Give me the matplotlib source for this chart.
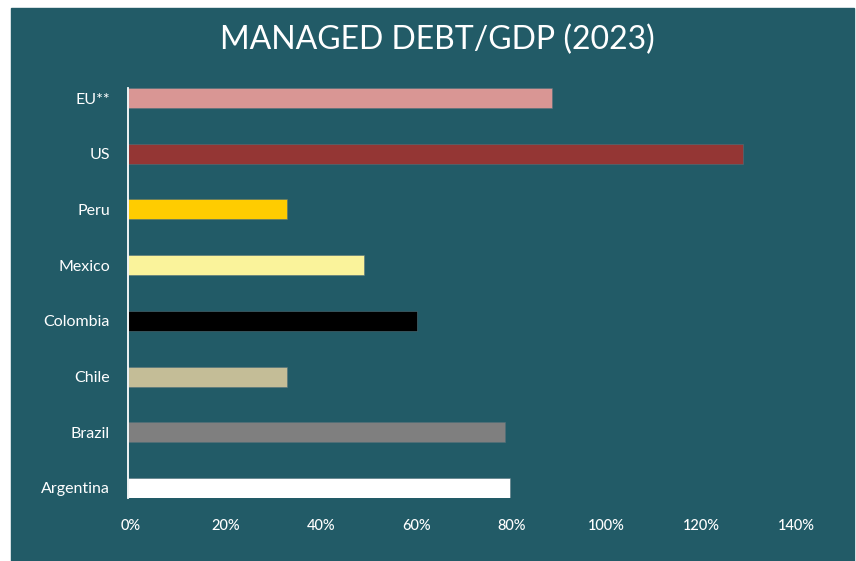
import matplotlib
matplotlib.use("Agg")
import matplotlib.pyplot as plt
import matplotlib.transforms as mtransforms
from matplotlib.patches import Rectangle

# data (bottom to top)
countries = ['Argentina', 'Brazil', 'Chile', 'Colombia', 'Mexico', 'Peru', 'US', 'EU**']
debt_gdp = [80.3, 79.3, 33.5, 60.7, 49.6, 33.5, 129.3, 89.3]
bar_colors = ['#ffffff', '#7f7f7f', '#c4bd97', '#000000', '#faf39b', '#ffcc00', '#943634', '#d99694']
xticks = [0, 20, 40, 60, 80, 100, 120, 140]
xtick_labels = ['%d%%' % t for t in xticks]

bg = '#225b67'

fig = plt.figure(figsize=(8.56, 5.61), dpi=100, facecolor='white')
fig.patches.append(Rectangle((11 / 856, 0), 843 / 856, 1 - 8 / 561,
                             transform=fig.transFigure, color=bg, zorder=-5))

ax = fig.add_axes([0.1495, 0.1123, 0.833, 0.7308])
ax.set_facecolor('none')
ax.barh(range(len(countries)), debt_gdp, height=0.36, color=bar_colors,
        edgecolor='#52707a', linewidth=0.4, zorder=2)

ax.set_xlim(0, 150)
ax.set_ylim(-0.18, 7.18)
ax.set_yticks(range(len(countries)))
ax.set_yticklabels(countries, family='Lato', fontsize=11.5, color='white')
ax.set_xticks(xticks)
ax.set_xticklabels(xtick_labels, family='Lato', fontsize=10.5, color='white',
                   fontweight='medium')
ax.tick_params(axis='both', length=0)
ax.tick_params(axis='x', pad=15)
ax.tick_params(axis='y', pad=13)

# nudge the percent labels slightly right, as in the original
shift = mtransforms.ScaledTranslation(3 / 100, 0, fig.dpi_scale_trans)
for lab in ax.get_xticklabels():
    lab.set_transform(lab.get_transform() + shift)

for s in ['top', 'right', 'bottom']:
    ax.spines[s].set_visible(False)
ax.spines['left'].set_color('white')
ax.spines['left'].set_linewidth(1.3)
ax.spines['left'].set_zorder(3)

fig.text(0.511, 0.928, 'MANAGED DEBT/GDP (2023)', ha='center', va='center',
         family='Lato', fontsize=23, color='white')

fig.savefig('out.png', dpi=100, facecolor=fig.get_facecolor())
